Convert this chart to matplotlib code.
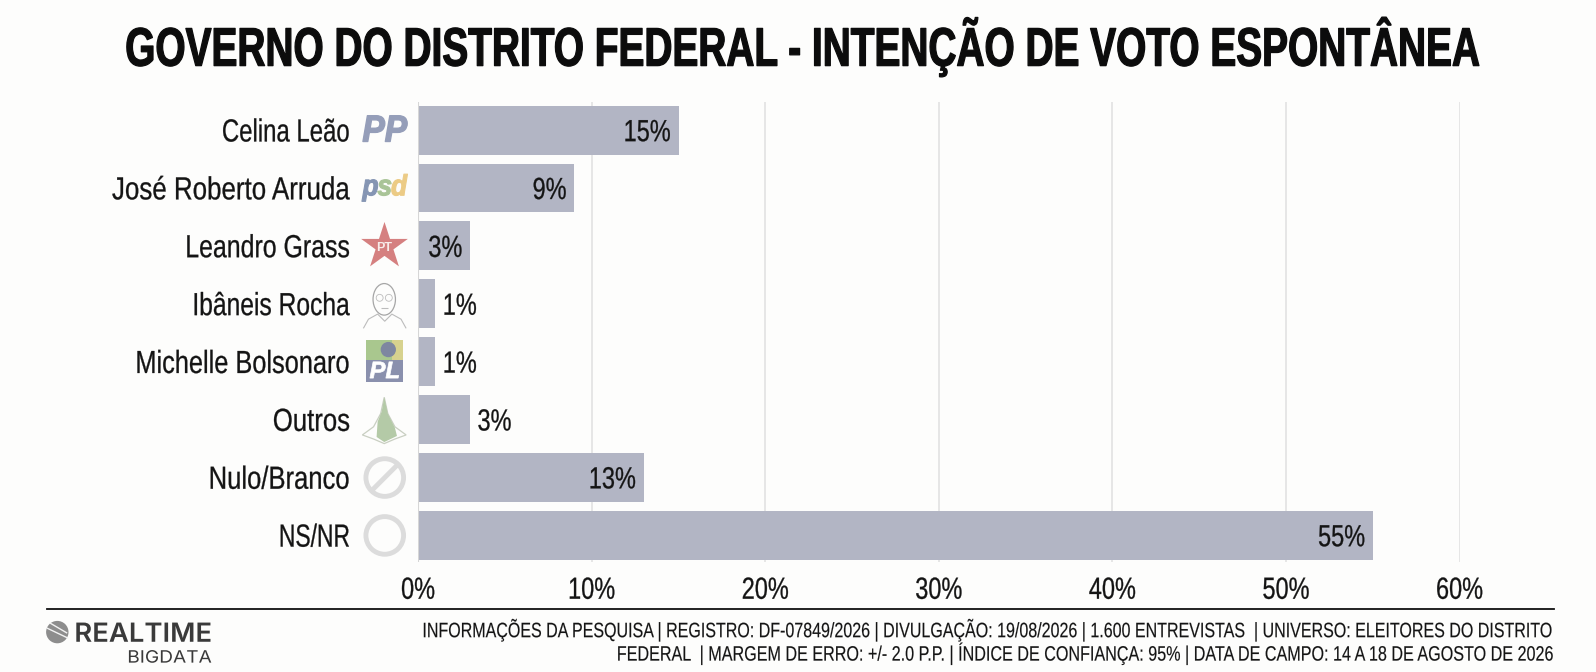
#Governo do DF - intencao de voto espontanea, horizontal bars
import matplotlib
matplotlib.use('Agg')
import matplotlib.pyplot as plt
import matplotlib.patheffects as pe
from matplotlib.patches import Circle, Ellipse, Polygon, Rectangle
from matplotlib.collections import LineCollection
from matplotlib.text import Text
from matplotlib.transforms import Affine2D, Bbox

candidates = ['Celina Leão', 'José Roberto Arruda', 'Leandro Grass', 'Ibâneis Rocha',
              'Michelle Bolsonaro', 'Outros', 'Nulo/Branco', 'NS/NR']
votes = [15, 9, 3, 1, 1, 3, 13, 55]
xticks = [0, 10, 20, 30, 40, 50, 60]

title = 'GOVERNO DO DISTRITO FEDERAL - INTENÇÃO DE VOTO ESPONTÂNEA'
info_1 = 'INFORMAÇÕES DA PESQUISA | REGISTRO: DF-07849/2026 | DIVULGAÇÃO: 19/08/2026 | 1.600 ENTREVISTAS  | UNIVERSO: ELEITORES DO DISTRITO'
info_2 = 'FEDERAL  | MARGEM DE ERRO: +/- 2.0 P.P. | ÍNDICE DE CONFIANÇA: 95% | DATA DE CAMPO: 14 A 18 DE AGOSTO DE 2026'

# layout grid: everything below is measured on a 1568 wide view of the 1596 px picture
W, H = 1568, 660.2
PX = 1596 / 1568
FONT = 'Liberation Sans'
BG = '#fdfdfc'
BAR = '#b2b5c4'
INK = '#141414'


# no condensed font is installed, so narrow the glyphs when they are drawn
class Squeeze(pe.AbstractPathEffect):
    def __init__(self, anchor, sx, lw=0):
        super().__init__()
        self.anchor, self.sx, self.lw = anchor, sx, lw

    def draw_path(self, renderer, gc, tpath, affine, rgbFace=None):
        squeeze = Affine2D().translate(-self.anchor, 0).scale(self.sx, 1).translate(self.anchor, 0)
        gc0 = renderer.new_gc()
        gc0.copy_properties(gc)
        gc0.set_linewidth(self.lw)
        renderer.draw_path(gc0, tpath, affine + squeeze, rgbFace)
        gc0.restore()


class NarrowText(Text):
    sx = 1.0
    lw = 0

    def anchor(self):
        return self.get_transform().transform(self.get_position())[0]

    def get_window_extent(self, renderer=None, dpi=None):
        bb = super().get_window_extent(renderer, dpi)
        a = self.anchor()
        return Bbox.from_extents(a + (bb.x0 - a) * self.sx, bb.y0, a + (bb.x1 - a) * self.sx, bb.y1)

    def draw(self, renderer):
        self.set_path_effects([Squeeze(self.anchor(), self.sx, self.lw)])
        super().draw(renderer)


fig = plt.figure(figsize=(15.96, 6.72), dpi=100, facecolor=BG)
renderer = fig.canvas.get_renderer()

# main axes
left, right, top, bottom = 410.8, 1434, 100, 552
ax = fig.add_axes([left / W, 1 - bottom / H, (right - left) / W, (bottom - top) / H])
ax.set_facecolor('none')
ax.barh(range(len(votes)), votes, height=0.845, color=BAR, zorder=2)
ax.set_xlim(0, 60)
ax.set_ylim(7.46, -0.49)
ax.set_xticks(xticks)
ax.set_xticklabels(['{}%'.format(t) for t in xticks], fontsize=22, family=FONT, color=INK)
ax.set_yticks([])
ax.tick_params(axis='x', length=0, pad=10)
ax.grid(axis='x', color='#e0e0e0', lw=1.1, zorder=1)
for s in ax.spines.values():
    s.set_visible(False)
ax.axvline(0, color='#d6d6d6', lw=1.5, zorder=3)
for t, lab in zip(xticks, ax.get_xticklabels()):
    lab.set_path_effects([Squeeze(ax.transData.transform((t, 0))[0], 0.77, 0.2)])


def narrow(parent, x, y, s, width=None, sx=1.0, lw=0, **kw):
    t = NarrowText(x, y, s, **kw)
    parent.add_artist(t)
    if width is not None:
        sx = width * PX / Text.get_window_extent(t, renderer).width
    t.sx, t.lw = sx, lw
    return t


for i, v in enumerate(votes):
    inside = v >= 9 or i == 2
    narrow(ax, v - 0.45 if inside else v + 0.42, i + 0.19, '{}%'.format(v), sx=0.77, lw=0.2,
           ha='right' if inside else 'left', va='baseline', fontsize=22, family=FONT, color=INK,
           transform=ax.transData, zorder=4)

# overlay in view coordinates for the title, labels, logos and footer
ov = fig.add_axes([0, 0, 1, 1])
ov.set_xlim(0, W)
ov.set_ylim(H, 0)
ov.axis('off')
ov.patch.set_alpha(0)

narrow(ov, 788, 64.5, title, width=1330, lw=0.9, ha='center', va='baseline', fontsize=39,
       family=FONT, weight='bold', color='#0c0c0c')

label_widths = [126, 234, 162, 155, 211, 76, 139, 70]
centers = [128 + i * 56.86 for i in range(len(candidates))]
for name, yc, w in zip(candidates, centers, label_widths):
    narrow(ov, 344, yc + 11, name, width=w, lw=0.2, ha='right', va='baseline', fontsize=23, family=FONT, color=INK)

# party logos
narrow(ov, 378, centers[0] + 11, 'PP', width=44, lw=1.0, ha='center', va='baseline', fontsize=27,
       family=FONT, weight='bold', style='italic', color='#959eb9')
for dx, ch, col in [(-14, 'p', '#8595b3'), (0, 's', '#a9c497'), (14, 'd', '#eccb85')]:
    narrow(ov, 378 + dx, centers[1] + 7, ch, sx=0.9, lw=0.8, ha='center', va='baseline', fontsize=21,
           family=FONT, weight='bold', style='italic', color=col)

ov.scatter([377.5], [centers[2]], marker='*', s=1250, color='#d58080', linewidths=0)
ov.text(377.5, centers[2] + 1.5, 'PT', ha='center', va='center', fontsize=9, family=FONT,
        weight='bold', color='#f7ecea')

# Ibaneis sketch
yc = centers[3]
ov.add_patch(Ellipse((377.5, yc - 4.5), 22, 31, fill=False, ec='#a6a6a6', lw=0.9))
ov.add_patch(Circle((373, yc - 6), 3.4, fill=False, ec='#bdbdbd', lw=0.6))
ov.add_patch(Circle((382, yc - 6), 3.4, fill=False, ec='#bdbdbd', lw=0.6))
ov.add_collection(LineCollection([[(374, yc + 4), (381, yc + 4)],
                                  [(357, yc + 24), (362, yc + 15), (371, yc + 10), (378, yc + 17),
                                   (385, yc + 10), (394, yc + 15), (399, yc + 24)]],
                                 colors='#bcbcbc', linewidths=0.8))

# PL flag
yc = centers[4]
ov.add_patch(Rectangle((359.5, yc - 21.5), 36, 20, color='#a9c78e', lw=0))
ov.add_patch(Rectangle((385, yc - 21.5), 10.5, 20, color='#d7d28e', lw=0))
ov.add_patch(Circle((381.5, yc - 12), 7.5, color='#7e87a0', lw=0))
ov.add_patch(Rectangle((359.5, yc - 1.5), 36, 21, color='#8a90ad', lw=0))
narrow(ov, 378, yc + 16, 'PL', width=30, lw=0.5, ha='center', va='baseline', fontsize=17,
       family=FONT, weight='bold', style='italic', color='white')

# Outros, outline of the DF flag
yc = centers[5]
ov.add_patch(Polygon([(377.5, yc - 22), (374, yc - 6), (367, yc + 7), (356, yc + 15), (367, yc + 19),
                      (377.5, yc + 23.5), (388, yc + 19), (399, yc + 15), (388, yc + 7), (381, yc - 6)],
                     closed=True, fill=False, ec='#c9cfc2', lw=0.9))
ov.add_patch(Polygon([(377.5, yc - 22), (381, yc - 6), (388, yc + 8), (390, yc + 16), (377.5, yc + 22),
                      (370, yc + 17), (371, yc + 2), (375, yc - 8)], closed=True, color='#b4caa7', lw=0))

# Nulo / NS
yc = centers[6]
ov.add_patch(Circle((378, yc), 18.5, fill=False, ec='#dcdcdc', lw=3.5))
ov.add_collection(LineCollection([[(365, yc + 13), (391, yc - 13)]], colors='#dcdcdc', linewidths=3.5))
ov.add_patch(Circle((378, centers[7]), 18.5, fill=False, ec='#dcdcdc', lw=3.5))

# footer
ov.plot([46, 1527], [598.6, 598.6], color='#111111', lw=1.3)
narrow(ov, 1528.5, 626, info_1, width=1113.5, lw=0.1, ha='right', va='baseline', fontsize=15, family=FONT, color=INK)
narrow(ov, 1528.5, 649, info_2, width=922.5, lw=0.1, ha='right', va='baseline', fontsize=15, family=FONT, color=INK)

ov.add_patch(Circle((56.3, 621), 11, color='#8d8d8d', lw=0))
ov.add_collection(LineCollection([[(46, 617), (67, 627)], [(49, 612), (66, 622)]], colors='#f2f2f2', linewidths=1))
narrow(ov, 73, 630.5, 'REALTIME', width=135, ha='left', va='baseline', fontsize=19, family='Inter',
       weight='semibold', color='#3a3a3a')
narrow(ov, 208, 651, 'BIGDATA', width=83, ha='right', va='baseline', fontsize=12.3, family='Inter', color='#3a3a3a')

fig.savefig('out.png', dpi=100, facecolor=BG)
